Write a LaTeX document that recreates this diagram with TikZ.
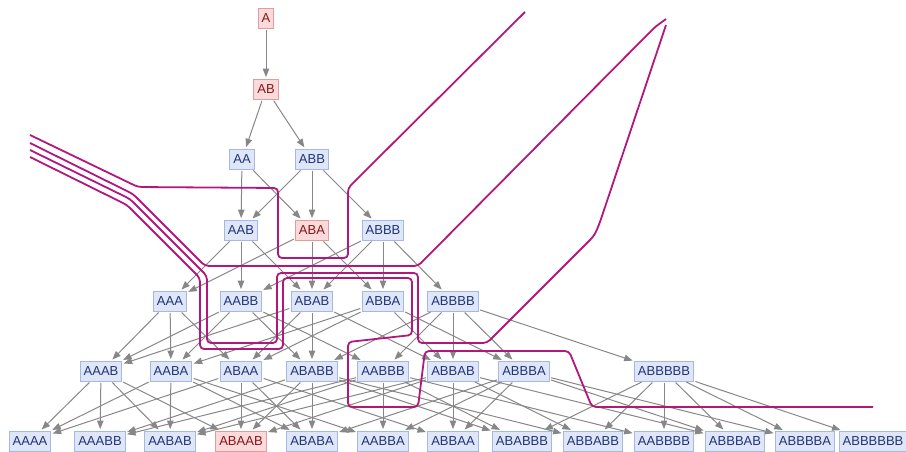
\documentclass[tikz,border=0pt]{standalone}
\usepackage{fontspec}
\setmainfont{Liberation Sans}
\usetikzlibrary{arrows.meta}

\definecolor{cutline}{RGB}{178,24,124}
\definecolor{bluefill}{RGB}{222,230,248}
\definecolor{bluedraw}{RGB}{165,184,228}
\definecolor{bluetext}{RGB}{32,52,120}
\definecolor{redfill}{RGB}{250,218,218}
\definecolor{reddraw}{RGB}{228,155,155}
\definecolor{redtext}{RGB}{135,22,22}
\definecolor{edgegray}{RGB}{135,135,135}

\tikzset{
  wordbox/.style={draw=bluedraw, fill=bluefill, text=bluetext, line width=0.8pt,
    font=\fontsize{13}{13}\selectfont, inner xsep=3.5pt, inner ysep=0pt, minimum height=20pt},
  redbox/.style={wordbox, draw=reddraw, fill=redfill, text=redtext},
  evo/.style={draw=edgegray, line width=1pt, -{Triangle[length=8.5pt,width=6.5pt]},
    shorten >=1.5pt, shorten <=1.5pt},
  cut/.style={draw=cutline, line width=1.8pt, rounded corners=4pt}
}

\begin{document}
\begin{tikzpicture}[x=1pt,y=-1pt]
\useasboundingbox (0,0) rectangle (906,451);
\foreach \w / \x / \y in {A/266/18, AB/266/89, ABA/312/230, ABAAB/241/441}
  \node[redbox] (\w) at (\x,\y) {\w};
\foreach \w / \x / \y in {AA/242/159, ABB/312/159,
  AAB/241/230, ABBB/383/230,
  AAA/170/301, AABB/241/301, ABAB/312/301, ABBA/383/301, ABBBB/453/301,
  AAAB/101/371, AABA/171/371, ABAA/241/371, ABABB/312/371, AABBB/383/371,
  ABBAB/453/371, ABBBA/524/371, ABBBBB/664/371,
  AAAA/30/441, AAABB/100/441, AABAB/170/441, ABABA/312/441, AABBA/383/441,
  ABBAA/453/441, ABABBB/522/441, ABBABB/593/441, AABBBB/664/441,
  ABBBAB/735/441, ABBBBA/805/441, ABBBBBB/873/441}
  \node[wordbox] (\w) at (\x,\y) {\w};
\foreach \s / \t in {A/AB, AB/AA, AB/ABB,
  AA/AAB, AA/ABA, ABB/AAB, ABB/ABA, ABB/ABBB,
  AAB/AAA, AAB/AABB, AAB/ABAB, ABA/AAA, ABA/ABAB, ABA/ABBA,
  ABBB/AABB, ABBB/ABAB, ABBB/ABBA, ABBB/ABBBB,
  AAA/AAAB, AAA/AABA, AAA/ABAA,
  AABB/AAAB, AABB/AABA, AABB/ABABB, AABB/AABBB,
  ABAB/AAAB, ABAB/ABAA, ABAB/ABABB, ABAB/ABBAB,
  ABBA/AABA, ABBA/ABAA, ABBA/ABBAB, ABBA/ABBBA,
  ABBBB/AABBB, ABBBB/ABABB, ABBBB/ABBAB, ABBBB/ABBBA, ABBBB/ABBBBB,
  AAAB/AAAA, AAAB/ABAAB, AAAB/AABAB, AAAB/AAABB,
  AABA/AAAA, AABA/ABABA, AABA/AABBA, AABA/AABAB,
  ABAA/AAAA, ABAA/ABBAA, ABAA/ABABA, ABAA/ABAAB,
  ABABB/AAABB, ABABB/ABAAB, ABABB/ABABA, ABABB/ABBABB, ABABB/ABABBB,
  AABBB/AAABB, AABBB/AABAB, AABBB/AABBA, AABBB/ABABBB, AABBB/AABBBB,
  ABBAB/AABAB, ABBAB/ABAAB, ABBAB/ABBAA, ABBAB/ABBBAB, ABBAB/ABBABB,
  ABBBA/AABBA, ABBBA/ABABA, ABBBA/ABBAA, ABBBA/ABBBBA, ABBBA/ABBBAB,
  ABBBBB/AABBBB, ABBBBB/ABABBB, ABBBBB/ABBABB, ABBBBB/ABBBAB,
  ABBBBB/ABBBBA, ABBBBB/ABBBBBB}
  \draw[evo] (\s) -- (\t);
\draw[cut] (30,135) -- (138,187) -- (278,188) -- (278,258) -- (348,258)
  -- (348,188) -- (525,12);
\draw[cut] (30,143) -- (133,194) -- (205,266) -- (418,266) -- (655,27) -- (666,19);
\draw[cut] (30,150) -- (130,199) -- (207,276) -- (207,343) -- (277,343)
  -- (277,273) -- (418,273) -- (418,343) -- (487,343) -- (593,237)
  -- (596,232) -- (600,222) -- (666,25);
\draw[cut] (30,157) -- (127,205) -- (200,278) -- (200,349) -- (283,349)
  -- (283,278) -- (412,278) -- (412,335) -- (348,342) -- (348,407)
  -- (418,407) -- (425,351) -- (569,351) -- (592,407) -- (873,407);
\end{tikzpicture}
\end{document}
